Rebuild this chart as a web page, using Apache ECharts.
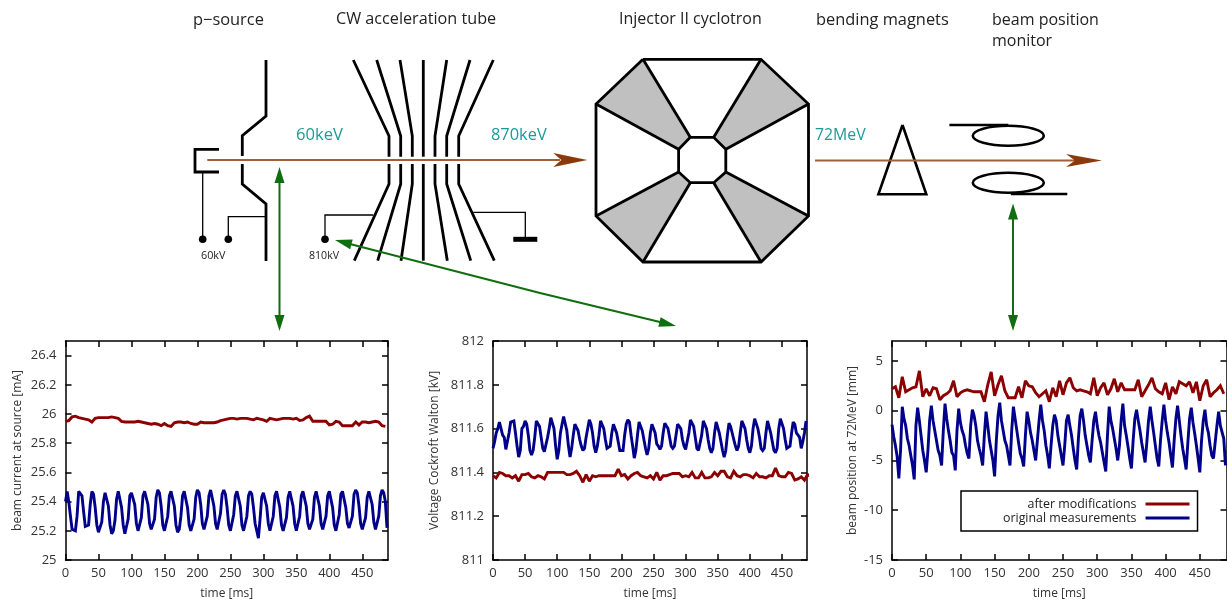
<!DOCTYPE html>
<html><head><meta charset="utf-8">
<script src="https://cdn.jsdelivr.net/npm/echarts@6/dist/echarts.min.js"></script>
<style>html,body{margin:0;padding:0;background:#fff}#c{width:1227px;height:602px}</style>
</head><body><div id="c"></div>
<script>
const FONT = '"Open Sans", sans-serif';
const xTicks = 50, xMax = 489;
const sAfter = 'after modifications', sOrig = 'original measurements';

const currentAfter = [
25.95,25.955,25.98,25.985,25.975,25.97,25.965,25.96,25.945,25.97,
25.975,25.975,25.975,25.975,25.98,25.975,25.97,25.95,25.945,25.945,
25.945,25.945,25.95,25.945,25.94,25.935,25.93,25.935,25.93,25.92,
25.935,25.92,25.915,25.94,25.945,25.945,25.94,25.945,25.935,25.93,
25.93,25.945,25.94,25.94,25.94,25.94,25.945,25.955,25.96,25.965,
25.97,25.97,25.965,25.97,25.97,25.97,25.965,25.96,25.97,25.965,
25.96,25.95,25.97,25.965,25.96,25.965,25.97,25.97,25.97,25.965,
25.97,25.955,25.96,25.975,25.985,25.95,25.95,25.95,25.95,25.95,
25.925,25.93,25.95,25.945,25.92,25.92,25.92,25.92,25.945,25.925,
25.945,25.945,25.94,25.945,25.95,25.945,25.92,25.915];
const currentOrig = [
25.40,25.47,25.40,25.30,25.21,25.20,25.20,25.30,
25.47,25.47,25.44,25.33,25.23,25.22,25.24,25.38,
25.47,25.45,25.36,25.24,25.19,25.20,25.26,25.40,
25.46,25.45,25.37,25.24,25.18,25.20,25.27,25.42,
25.47,25.46,25.36,25.24,25.18,25.19,25.28,25.44,
25.46,25.46,25.38,25.25,25.20,25.21,25.29,25.44,
25.47,25.48,25.38,25.25,25.21,25.20,25.28,25.43,
25.48,25.46,25.37,25.24,25.20,25.20,25.30,25.44,
25.47,25.47,25.37,25.24,25.19,25.21,25.30,25.44,
25.47,25.46,25.36,25.24,25.20,25.20,25.28,25.43,
25.48,25.46,25.38,25.25,25.21,25.20,25.30,25.44,
25.48,25.47,25.37,25.25,25.21,25.21,25.32,25.45,
25.48,25.45,25.36,25.24,25.20,25.21,25.31,25.44,
25.47,25.46,25.37,25.24,25.20,25.21,25.30,25.44,
25.47,25.45,25.36,25.25,25.20,25.15,25.28,25.43,
25.46,25.46,25.37,25.25,25.20,25.21,25.30,25.44,
25.47,25.46,25.36,25.24,25.20,25.20,25.29,25.43,
25.47,25.46,25.37,25.25,25.20,25.20,25.30,25.44,
25.47,25.47,25.37,25.25,25.21,25.20,25.28,25.43,
25.47,25.46,25.37,25.25,25.21,25.21,25.30,25.44,
25.47,25.46,25.36,25.24,25.20,25.21,25.31,25.45,
25.47,25.46,25.36,25.25,25.22,25.22,25.30,25.45,
25.48,25.46,25.37,25.25,25.21,25.20,25.29,25.43,
25.47,25.46,25.38,25.26,25.21,25.20,25.30,25.44,
25.48,25.46,25.40,25.22];

const voltageAfter = [
811.385,811.375,811.40,811.395,811.385,811.385,811.375,811.385,811.36,811.39,
811.39,811.395,811.38,811.375,811.385,811.38,811.37,811.40,811.40,811.40,
811.40,811.40,811.40,811.39,811.39,811.395,811.405,811.385,811.355,811.39,
811.36,811.385,811.38,811.385,811.385,811.385,811.385,811.385,811.385,811.415,
811.385,811.39,811.37,811.385,811.395,811.40,811.385,811.38,811.375,811.385,
811.37,811.40,811.365,811.385,811.385,811.39,811.395,811.395,811.395,811.38,
811.385,811.38,811.40,811.375,811.375,811.40,811.375,811.375,811.38,811.40,
811.385,811.405,811.405,811.38,811.375,811.405,811.385,811.38,811.39,811.39,
811.385,811.375,811.395,811.38,811.38,811.375,811.385,811.385,811.42,811.385,
811.38,811.38,811.40,811.395,811.365,811.37,811.38,811.365,811.39,811.38];
const voltageOrig = [
811.51,811.54,811.58,811.60,811.63,811.60,811.57,811.56,
811.505,811.51,811.58,811.63,811.635,811.635,811.58,811.52,
811.47,811.50,811.60,811.61,811.635,811.62,811.57,811.50,
811.48,811.50,811.56,811.635,811.635,811.61,811.56,811.51,
811.495,811.50,811.56,811.60,811.65,811.65,811.60,811.52,
811.46,811.50,811.58,811.62,811.655,811.655,811.59,811.52,
811.47,811.51,811.57,811.62,811.62,811.59,811.55,811.52,
811.50,811.51,811.56,811.60,811.64,811.62,811.58,811.52,
811.49,811.52,811.57,811.635,811.635,811.60,811.55,811.51,
811.51,811.52,811.58,811.62,811.62,811.58,811.54,811.50,
811.495,811.50,811.57,811.62,811.64,811.63,811.57,811.52,
811.465,811.50,811.57,811.63,811.63,811.59,811.55,811.51,
811.48,811.51,811.58,811.62,811.62,811.58,811.53,811.52,
811.505,811.52,811.58,811.625,811.625,811.60,811.56,811.52,
811.51,811.52,811.57,811.62,811.62,811.60,811.55,811.52,
811.505,811.51,811.58,811.64,811.64,811.61,811.56,811.51,
811.50,811.50,811.57,811.635,811.63,811.60,811.55,811.51,
811.49,811.51,811.58,811.63,811.63,811.58,811.54,811.50,
811.47,811.50,811.57,811.625,811.61,811.58,811.55,811.52,
811.50,811.52,811.58,811.635,811.635,811.60,811.55,811.51,
811.49,811.52,811.60,811.645,811.645,811.60,811.56,811.51,
811.50,811.51,811.58,811.635,811.63,811.58,811.54,811.50,
811.49,811.51,811.60,811.645,811.64,811.60,811.55,811.51,
811.505,811.52,811.58,811.63,811.62,811.58,811.58,811.56,
811.51,811.54,811.58,811.635];

const positionAfter = [
2.2,2.4,1.3,3.4,1.9,2.1,2.3,2.4,4.0,1.4,
2.2,1.5,2.3,2.2,1.1,1.5,1.7,2.0,3.0,1.4,
1.8,2.0,2.1,2.0,1.9,1.9,1.9,0.9,2.6,3.9,
1.5,2.6,3.5,2.0,1.3,1.3,1.3,2.4,1.3,3.0,
2.5,2.4,1.8,1.4,1.7,2.0,0.9,2.3,1.4,3.0,
1.6,2.8,3.3,2.3,2.0,2.1,2.0,1.9,1.7,3.3,
1.5,2.3,2.8,1.6,2.2,3.2,1.9,2.8,2.1,2.1,
2.1,2.1,3.1,1.4,2.0,2.6,3.3,2.2,1.9,1.7,
2.8,1.1,2.4,1.7,2.9,2.7,2.5,2.9,1.8,2.9,
1.0,2.5,3.1,1.4,1.8,2.1,2.5,1.7];
const positionOrig = [
-1.4,-2.6,-3.5,-4.6,-6.8,-4,0.4,-0.8,
-1.5,-2.8,-3.5,-4.5,-5.5,-6.9,-1.5,0.3,
-1,-2.5,-4,-5,-6.2,-4,-1,0.5,
-1,-2,-3,-4,-4.5,-5.5,-2,0.7,
-0.8,-2,-3,-4.2,-4.5,-6,-2,0.2,
-1.2,-2,-2.5,-3.5,-4.3,-4.8,-1.5,0.1,
-0.5,-1.5,-3,-3.8,-4.5,-5.5,-2.5,-0.1,
-1.5,-3,-4,-5,-6.6,-3,-0.5,0.8,
-1,-2,-3,-3.5,-4.5,-5.5,-2,0.4,
-0.8,-2,-3.2,-4.3,-4.8,-5.6,-2.5,-0.1,
-1,-2.2,-3,-4,-5,-3,-1,0.6,
-1,-2,-3.5,-4.5,-5.8,-3.5,-1.5,-0.4,
-1,-2.5,-3.5,-4.5,-5.5,-3.5,-1,-0.4,
-1.5,-2.5,-3.8,-5,-5.9,-2.8,-0.5,0.2,
-1,-2.5,-3.5,-4.5,-5.2,-3,-1,-0.1,
-1.5,-2.5,-3.2,-4.2,-4.2,-6.1,-2.5,0.4,
-1,-1.8,-2.8,-3.8,-5,-3.5,-1,0.7,
-1.5,-2.5,-3.6,-4.8,-5.8,-3,-0.8,0.1,
-1,-2,-3.2,-4.2,-5.2,-3.2,-1,0.4,
-1,-2.2,-3.5,-4.8,-5.6,-3,-1,0.6,
-1,-2.2,-3.2,-4.5,-5.7,-3,-0.8,0.5,
-1,-2.5,-3.8,-4.8,-5.9,-3.2,-0.8,0.3,
-1.2,-2.3,-3.5,-4.8,-6.2,-3,-1,0.1,
-1.5,-2.2,-3.5,-4.5,-4.8,-5,-1.5,-0.1,
-1.5,-1.5,-2.8,-5.5];

const redMs = 5, blueMs = 2.5;
const pairs = (vals, ms) => vals.map((v, i) => [i * ms, v]);

const panels = [
  {box:{left:65.5, top:341, width:322.5, height:219}, yMin:25, yMax:26.5, yInt:0.2, yName:'beam current at source [mA]', gap:42, a:currentAfter, o:currentOrig},
  {box:{left:493, top:341, width:314, height:219}, yMin:811, yMax:812, yInt:0.2, yName:'Voltage Cockroft Walton [kV]', gap:52, a:voltageAfter, o:voltageOrig},
  {box:{left:892, top:341, width:334.5, height:219}, yMin:-15, yMax:7, yInt:5, yName:'beam position at 72MeV [mm]', gap:33, a:positionAfter, o:positionOrig}
];

const axisLine = {show:true, onZero:false, lineStyle:{color:'#000', width:1.5}};
const tick = {show:true, inside:true, length:6, lineStyle:{color:'#000', width:1.5}};
const txt = {color:'#333', fontFamily:FONT, fontSize:13};
const nameTxt = {color:'#333', fontFamily:FONT, fontSize:12};
const grids = [], xAxes = [], yAxes = [], series = [];
panels.forEach((p, i) => {
  grids.push(p.box);
  const xb = {type:'value', gridIndex:i, min:0, max:xMax, interval:xTicks, splitLine:{show:false}, axisLine, axisTick:tick};
  const yb = {type:'value', gridIndex:i, min:p.yMin, max:p.yMax, interval:p.yInt, splitLine:{show:false}, axisLine, axisTick:tick};
  xAxes.push({...xb, position:'bottom', name:'time [ms]', nameLocation:'middle', nameGap:28, nameTextStyle:nameTxt,
    axisLabel:{...txt, margin:7, showMaxLabel:false}});
  xAxes.push({...xb, position:'top', axisLabel:{show:false}});
  yAxes.push({...yb, position:'left', name:p.yName, nameLocation:'middle', nameGap:p.gap, nameTextStyle:nameTxt,
    axisLabel:{...txt, margin:9, showMaxLabel:p.yMax===812}});
  yAxes.push({...yb, position:'right', axisLabel:{show:false}});
  const common = {type:'line', showSymbol:false, symbol:'none', xAxisIndex:i*2, yAxisIndex:i*2, animation:false, silent:true};
  series.push({...common, name:sAfter, data:pairs(p.a, redMs), lineStyle:{color:'#8b0000', width:2.9, join:'miter', miterLimit:2}, itemStyle:{color:'#8b0000'}});
  series.push({...common, name:sOrig, data:pairs(p.o, blueMs), lineStyle:{color:'#00008b', width:2.9, join:'miter', miterLimit:2}, itemStyle:{color:'#00008b'}});
});

// schematic helpers (decorative drawing above the charts)
const poly = (pts, width, stroke='#000', z=5) => ({type:'polyline', z, shape:{points:pts}, style:{stroke, lineWidth:width, fill:null}});
const fillPoly = (pts, fill, z=4) => ({type:'polygon', z, shape:{points:pts}, style:{fill}});
const dot = (x, y) => ({type:'circle', z:5, shape:{cx:x, cy:y, r:3.8}, style:{fill:'#000'}});
const label = (s, x, y, size=16, color='#222') => ({type:'text', z:7, x, y, style:{text:s, fill:color, font:`${size}px ${FONT}`, textAlign:'left', textVerticalAlign:'middle'}});
const ring = (cx, cy) => ({type:'ellipse', z:5, shape:{cx, cy, rx:35.5, ry:10}, style:{stroke:'#000', lineWidth:2.6, fill:null}});
const head = (tx, ty, dx, dy, len, half, color, notch=0) => {
  const d = Math.hypot(dx, dy), ux = dx/d, uy = dy/d, bx = tx-ux*len, by = ty-uy*len;
  const pts = [[tx,ty],[bx-uy*half,by+ux*half],[bx+ux*notch,by+uy*notch],[bx+uy*half,by-ux*half]];
  return fillPoly(pts, color, 6);
};
const GREEN = '#0f6e0f', BEAM = '#a0603a', BEAMH = '#8a3a0a', TEAL = '#1b9a96';
const tube = [
 [[353.3,60],[389,136],[389,156.7]], [[389,164],[389,184],[354.3,260.7]],
 [[376.7,60],[400.7,136],[400.7,156.7]], [[400.7,164],[400.7,184],[377.7,260.7]],
 [[400,60],[412.3,136],[412.3,156.7]], [[412.3,164],[412.3,184],[401,260.7]],
 [[423.3,60],[423.3,156.7]], [[423.3,164],[423.3,260.7]],
 [[446.7,60],[435,136],[435,156.7]], [[435,164],[435,184],[447.3,260.7]],
 [[470,60],[446.7,136],[446.7,156.7]], [[446.7,164],[446.7,184],[470.7,260.7]],
 [[493.3,60],[458.7,136],[458.7,156.7]], [[458.7,164],[458.7,184],[494.3,260.7]]
];
const sectors = [
 [[643,59.3],[596,104],[678.6,149.3],[690.3,137.3]],
 [[761,59.3],[808.5,104],[725.8,149.3],[713.7,137.3]],
 [[596,216],[643,262],[690.3,182.7],[678.6,172]],
 [[808.5,216],[761,262],[713.7,182.7],[725.8,172]]
];
const outer = [[643,59.3],[761,59.3],[808.5,104],[808.5,216],[761,262],[643,262],[596,216],[596,104],[643,59.3]];
const inner = [[690.3,137.3],[713.7,137.3],[725.8,149.3],[725.8,172],[713.7,182.7],[690.3,182.7],[678.6,172],[678.6,149.3],[690.3,137.3]];
const graphics = [
  label('p\u2212source',193,20,16.4), label('CW acceleration tube',336,19,16.2), label('Injector II cyclotron',619,19),
  label('bending magnets',816,20,16.4), label('beam position',992,20), label('monitor',992,41),
  label('60keV',296,135,16.6,TEAL), label('870keV',491,135,16.4,TEAL), label('72MeV',815,135,15.8,TEAL),
  label('60kV',201,256,10.8), label('810kV',309,256,10.6),
  poly([[266,60],[266,116],[242.3,135.7],[242.3,156]],2.8),
  poly([[242.3,164],[242.3,184],[266,204],[266,261]],2.8),
  poly([[219,149.3],[195,149.3],[195,172],[219,172]],2.8),
  poly([[202.7,172],[202.7,239.3]],1.3), dot(202.7,239.3),
  poly([[228.3,239.3],[228.3,216.7],[266,216.7]],1.3), dot(228.3,239.3),
  poly([[325,239.3],[325,215],[373.3,215]],1.3), dot(325,239.3),
  poly([[473.3,212.3],[525.3,212.3],[525.3,239.3]],1.3),
  poly([[513.3,239.3],[537.3,239.3]],5),
  ...tube.map(t => poly(t,2.8)),
  ...sectors.map(s => fillPoly(s,'#c0c0c0')),
  poly(outer,2.8), poly(inner,2.8),
  ...sectors.flatMap(s => [poly([s[0],s[3]],2.8), poly([s[1],s[2]],2.8)]),
  poly([[902.5,125],[926.3,194.3],[878.4,194.3],[902.5,125]],2.6),
  ring(1008.3,135.7), ring(1008.3,182.7),
  poly([[949.4,125],[1008.3,125]],2.6), poly([[1010.8,194],[1067.3,194]],2.6),
  poly([[207.3,160],[560,160]],2,BEAM,6), head(587.3,160,1,0,34,7,BEAMH,8),
  poly([[815,160.5],[1078,160.5]],2,BEAM,6), head(1102,160.5,1,0,36,6.5,BEAMH,9),
  poly([[279.5,180],[279.5,318]],2,GREEN,6), head(279.5,167,0,-1,16,5,GREEN), head(279.5,331,0,1,16,5,GREEN),
  poly([[348,243.5],[540,293],[662,322.5]],2,GREEN,6), head(335,240,-13,-3.4,17,5,GREEN), head(676,326,14,3.4,17,5,GREEN),
  poly([[1013,216],[1013,318]],2,GREEN,6), head(1013,203.5,0,-1,16,5,GREEN), head(1013,331,0,1,16,5,GREEN)
];

const chart = echarts.init(document.getElementById('c'), null, {renderer:'canvas'});
chart.setOption({
  animation:false, backgroundColor:'#fff',
  grid:grids, xAxis:xAxes, yAxis:yAxes, series,
  legend:{
    left:961, top:491, orient:'vertical', align:'right', data:[sAfter,sOrig], selectedMode:false,
    icon:'rect', itemWidth:44, itemHeight:3, itemGap:0,
    padding:[6,8,6,42], backgroundColor:'#fff', borderColor:'#000', borderWidth:1.5,
    textStyle:{color:'#222', fontFamily:FONT, fontSize:12.4, lineHeight:14, padding:[0,4,0,0]}
  },
  graphic:{elements:graphics}
});
</script></body></html>
